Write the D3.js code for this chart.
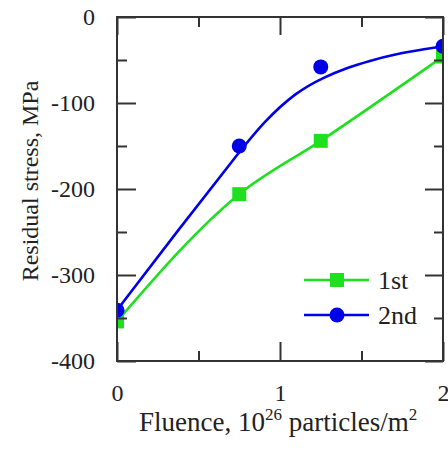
<!DOCTYPE html>
<html>
<head>
<meta charset="utf-8">
<script src="https://cdn.jsdelivr.net/npm/d3@7"></script>
<style>
  html, body { margin: 0; padding: 0; background: #fff; }
  svg { display: block; font-family: "Liberation Serif", "Times New Roman", serif; }
</style>
</head>
<body>
<svg id="chart" width="448" height="450"></svg>
<script>
// ---- data ----
const fluence1 = [0, 0.75, 1.25, 2];
const stress1 = [-354, -206, -144, -46];
const fluence2 = [0, 0.75, 1.25, 2];
const stress2 = [-341, -150, -58, -34];
// fitted curve for the 2nd series
const fitX2 = [0, 0.37, 0.75, 0.9, 1.1, 1.27, 1.41, 1.55, 1.7, 1.9, 2];
const fitY2 = [-341, -249, -157, -122, -87, -70, -59, -51, -43.5, -37, -34];
const seriesNames = ["1st", "2nd"];
const xMajorTicks = [0, 1, 2];
const xMinorTicks = [0.5, 1.5];
const yMajorTicks = [-400, -300, -200, -100, 0];
const yMinorTicks = [-350, -250, -150, -50];

const green = "#1fe01f";
const blue = "#0000e6";
const axisColor = "#333";

const svg = d3.select("#chart");
const L = 117, R = 443, T = 17, B = 361;
const x = d3.scaleLinear().domain([0, 2]).range([L, R]);
const y = d3.scaleLinear().domain([-400, 0]).range([B, T]);

svg.append("defs").append("clipPath").attr("id", "clip")
  .append("rect").attr("x", L).attr("y", T).attr("width", R - L).attr("height", B - T);

const plot = svg.append("g").attr("clip-path", "url(#clip)");

// series 1 smooth curve through points
plot.append("path")
  .datum(fluence1.map((f, i) => [f, stress1[i]]))
  .attr("d", d3.line().x(d => x(d[0])).y(d => y(d[1])).curve(d3.curveMonotoneX))
  .attr("fill", "none").attr("stroke", green).attr("stroke-width", 2.6);

// series 2 fitted curve
plot.append("path")
  .datum(fitX2.map((f, i) => [f, fitY2[i]]))
  .attr("d", d3.line().x(d => x(d[0])).y(d => y(d[1])).curve(d3.curveBasis))
  .attr("fill", "none").attr("stroke", blue).attr("stroke-width", 2.6);

// markers
const sq = 14;
plot.selectAll(".sq").data(fluence1.map((f, i) => [f, stress1[i]])).enter()
  .append("rect")
  .attr("x", d => x(d[0]) - sq / 2).attr("y", d => y(d[1]) - sq / 2)
  .attr("width", sq).attr("height", sq).attr("fill", green);

plot.selectAll(".ci").data(fluence2.map((f, i) => [f, stress2[i]])).enter()
  .append("circle")
  .attr("cx", d => x(d[0])).attr("cy", d => y(d[1]))
  .attr("r", 7.5).attr("fill", blue);

// ---- axes ----
const fmt = d => String(d);
function styleAxis(g) {
  g.select(".domain").remove();
  g.selectAll("line").attr("stroke", axisColor).attr("stroke-width", 2);
  g.selectAll("text").attr("fill", "#222").style("font-size", "24px")
    .style("font-family", "'Liberation Serif', serif");
}

svg.append("g").attr("transform", `translate(${L},0)`)
  .call(d3.axisLeft(y).tickValues(yMajorTicks).tickSize(-19).tickPadding(22).tickFormat(fmt))
  .call(styleAxis);
svg.append("g").attr("transform", `translate(${L},0)`)
  .call(d3.axisLeft(y).tickValues(yMinorTicks).tickSize(-10).tickFormat(""))
  .call(styleAxis);
svg.append("g").attr("transform", `translate(${R},0)`)
  .call(d3.axisRight(y).tickValues(yMajorTicks).tickSize(-18).tickFormat(""))
  .call(styleAxis);
svg.append("g").attr("transform", `translate(${R},0)`)
  .call(d3.axisRight(y).tickValues(yMinorTicks).tickSize(-9).tickFormat(""))
  .call(styleAxis);

svg.append("g").attr("transform", `translate(0,${B})`)
  .call(d3.axisBottom(x).tickValues(xMajorTicks).tickSize(-19).tickPadding(23).tickFormat(fmt))
  .call(styleAxis);
svg.append("g").attr("transform", `translate(0,${B})`)
  .call(d3.axisBottom(x).tickValues(xMinorTicks).tickSize(-10).tickFormat(""))
  .call(styleAxis);
svg.append("g").attr("transform", `translate(0,${T})`)
  .call(d3.axisTop(x).tickValues(xMajorTicks).tickSize(-18).tickFormat(""))
  .call(styleAxis);
svg.append("g").attr("transform", `translate(0,${T})`)
  .call(d3.axisTop(x).tickValues(xMinorTicks).tickSize(-10).tickFormat(""))
  .call(styleAxis);

// frame
svg.append("rect").attr("x", L).attr("y", T).attr("width", R - L).attr("height", B - T)
  .attr("fill", "none").attr("stroke", axisColor).attr("stroke-width", 2);

// axis titles
const xt = svg.append("text").attr("x", 139).attr("y", 431)
  .attr("fill", "#222").style("font-size", "27px");
xt.append("tspan").text("Fluence, 10");
xt.append("tspan").attr("dy", -11).style("font-size", "17px").text("26");
xt.append("tspan").attr("dy", 11).text(" particles/m");
xt.append("tspan").attr("dy", -11).style("font-size", "17px").text("2");

svg.append("text")
  .attr("transform", `translate(38,181) rotate(-90)`)
  .attr("text-anchor", "middle").attr("fill", "#222").style("font-size", "24px")
  .text("Residual stress, MPa");

// legend
const legend = [
  { name: seriesNames[0], color: green, shape: "square", cy: 280 },
  { name: seriesNames[1], color: blue, shape: "circle", cy: 315 }
];
legend.forEach(d => {
  const g = svg.append("g");
  g.append("line").attr("x1", 304).attr("x2", 369).attr("y1", d.cy).attr("y2", d.cy)
    .attr("stroke", d.color).attr("stroke-width", 2.6);
  if (d.shape === "square") {
    g.append("rect").attr("x", 337 - 7).attr("y", d.cy - 7).attr("width", 14).attr("height", 14).attr("fill", d.color);
  } else {
    g.append("circle").attr("cx", 337).attr("cy", d.cy).attr("r", 7.5).attr("fill", d.color);
  }
  g.append("text").attr("x", 378).attr("y", d.cy + 9).attr("fill", "#222")
    .style("font-size", "26px").text(d.name);
});
</script>
</body>
</html>
